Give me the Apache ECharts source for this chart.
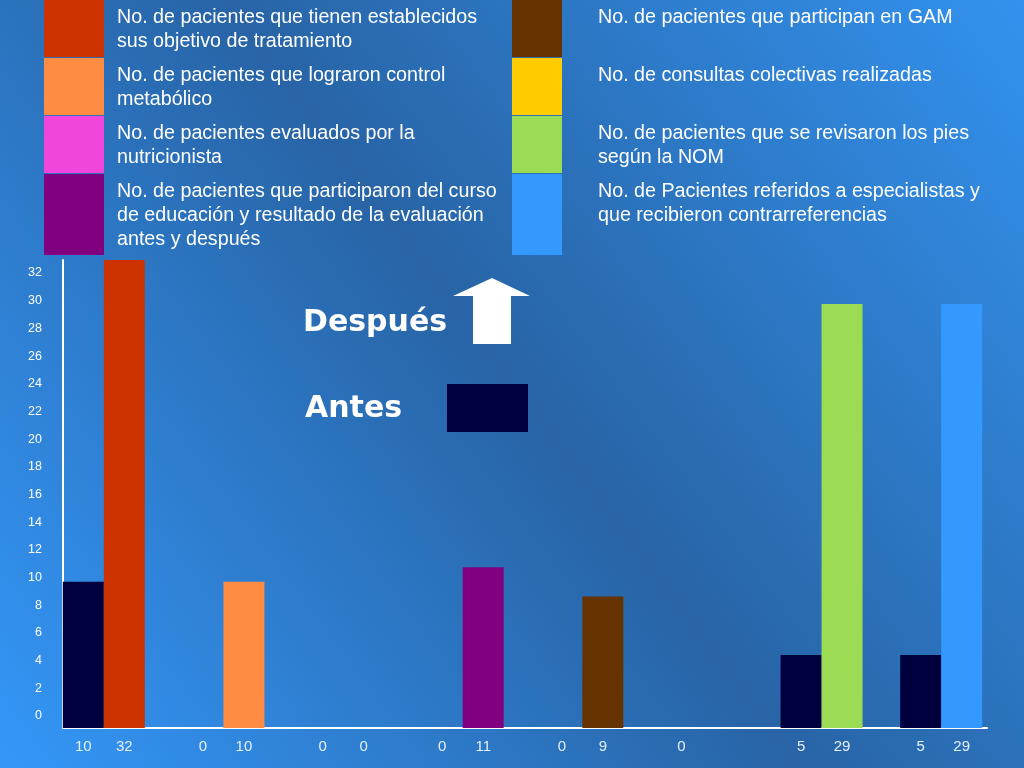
<!DOCTYPE html>
<html>
<head>
<meta charset="utf-8">
<title>Antes y después</title>
<script src="https://cdn.jsdelivr.net/npm/echarts@6/dist/echarts.min.js"></script>
<style>
html, body {margin: 0; padding: 0;}
#main {width: 1024px; height: 768px;}
</style>
</head>
<body>
<div id="main"></div>
<script>
// indicadores (mismo orden que las barras)
var indicadores = [
    'No. de pacientes que tienen establecidos\nsus objetivo de tratamiento',
    'No. de pacientes que lograron control\nmetabólico',
    'No. de pacientes evaluados por la\nnutricionista',
    'No. de pacientes que participaron del curso\nde educación y resultado de la evaluación\nantes y después',
    'No. de pacientes que participan en GAM',
    'No. de consultas colectivas realizadas',
    'No. de pacientes que se revisaron los pies\nsegún la NOM',
    'No. de Pacientes referidos a especialistas y\nque recibieron contrarreferencias'
];
var colores = ['#cc3300', '#ff8c42', '#f046dc', '#800080', '#663300', '#ffcc00', '#9cdc55', '#3399ff'];
var colorAntes = '#00003f';

var antes   = [10, 0, 0, 0, 0, 0, 5, 5];
var despues = [32, 10, 0, 11, 9, null, 29, 29];

var yMin = 0, yMax = 32, yPaso = 2;

var myChart = echarts.init(document.getElementById('main'));

// cuadro de leyenda arriba (2 columnas x 4 filas)
var filaTop = [0, 58, 116, 174];
var filaAlto = [57, 57, 57, 81];
var graficos = [];
indicadores.forEach(function (txt, i) {
    var col = i < 4 ? 0 : 1;
    var fila = i % 4;
    graficos.push({
        type: 'rect',
        shape: {x: col ? 512 : 44, y: filaTop[fila], width: col ? 50 : 60, height: filaAlto[fila]},
        style: {fill: colores[i]}
    });
    graficos.push({
        type: 'text',
        x: col ? 598 : 117,
        y: filaTop[fila] + 6,
        style: {
            text: txt,
            fill: '#ffffff',
            fontSize: 19.7,
            fontFamily: 'Liberation Sans, Arial, sans-serif',
            lineHeight: 24
        }
    });
});
// Después / Antes
var fuenteGrande = {fill: '#fff', fontSize: 30, fontWeight: 'bold', fontFamily: 'DejaVu Sans, Verdana, sans-serif'};
graficos.push(
    {type: 'text', x: 303, y: 308, style: Object.assign({text: 'Después'}, fuenteGrande)},
    {type: 'polygon', shape: {points: [[492, 278], [530, 296], [511, 296], [511, 344], [473, 344], [473, 296], [453, 296]]}, style: {fill: '#fff'}},
    {type: 'text', x: 305, y: 394, style: Object.assign({text: 'Antes'}, fuenteGrande)},
    {type: 'rect', shape: {x: 447, y: 384, width: 81, height: 48}, style: {fill: colorAntes}}
);

var etiqueta = {
    show: true,
    position: 'bottom',
    distance: 11,
    color: '#e4f0ff',
    fontSize: 15,
    fontFamily: 'Liberation Sans Narrow, Liberation Sans, Arial, sans-serif',
    formatter: '{c}'
};

var option = {
    backgroundColor: new echarts.graphic.LinearGradient(1, 0, 0, 1, [
        {offset: 0, color: '#3392ee'},
        {offset: 0.5, color: '#2864a6'},
        {offset: 1, color: '#3497f8'}
    ]),
    animation: false,
    graphic: graficos,
    grid: [
        // barras
        {left: 44, right: 23, top: 260, bottom: 40},
        // marco de ejes
        {left: 63, right: 37, top: 260, bottom: 40},
        // rótulos del eje Y
        {left: 63, right: 37, top: 273, bottom: 52}
    ],
    xAxis: [
        {
            type: 'category', gridIndex: 0,
            data: indicadores.map(function (t, i) { return 'c' + i; }),
            axisLine: {show: false}, axisTick: {show: false}, axisLabel: {show: false}
        },
        {
            type: 'value', gridIndex: 1, min: 0, max: 1,
            axisLine: {show: true, lineStyle: {color: '#ffffff', width: 2}},
            axisTick: {show: false}, axisLabel: {show: false}, splitLine: {show: false}
        },
        {type: 'value', gridIndex: 2, min: 0, max: 1, show: false}
    ],
    yAxis: [
        {
            type: 'value', gridIndex: 0, min: yMin, max: yMax, interval: yPaso,
            show: false
        },
        {
            type: 'value', gridIndex: 1, min: yMin, max: yMax, interval: yPaso,
            axisLine: {show: true, lineStyle: {color: '#ffffff', width: 2}},
            axisTick: {show: false}, axisLabel: {show: false}, splitLine: {show: false}
        },
        {
            type: 'value', gridIndex: 2, min: yMin, max: yMax, interval: yPaso,
            axisLine: {show: false}, axisTick: {show: false}, splitLine: {show: false},
            axisLabel: {color: '#ffffff', fontSize: 12.5, margin: 21, fontFamily: 'Liberation Sans, Arial, sans-serif'}
        }
    ],
    series: [
        {
            name: 'Antes', type: 'bar', xAxisIndex: 0, yAxisIndex: 0,
            barWidth: 41, barGap: '0%',
            itemStyle: {color: colorAntes},
            label: etiqueta,
            data: antes
        },
        {
            name: 'Después', type: 'bar', xAxisIndex: 0, yAxisIndex: 0,
            barWidth: 41, barGap: '0%',
            label: etiqueta,
            data: despues.map(function (v, i) {
                return {value: v, itemStyle: {color: colores[i]}};
            })
        }
    ]
};

myChart.setOption(option);
</script>
</body>
</html>
